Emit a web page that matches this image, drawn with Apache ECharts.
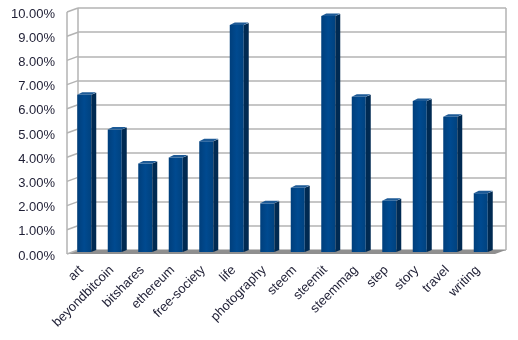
<!DOCTYPE html>
<html><head><meta charset="utf-8">
<script src="https://cdn.jsdelivr.net/npm/echarts@6/dist/echarts.min.js"></script>
<style>html,body{margin:0;padding:0;background:#fff}#c{width:518px;height:340px}</style>
</head><body><div id="c"></div>
<script>
const categories = ['art','beyondbitcoin','bitshares','ethereum','free-society','life','photography','steem','steemit','steemmag','step','story','travel','writing'];
const values = [6.5, 5.06, 3.66, 3.91, 4.58, 9.38, 2.01, 2.66, 9.75, 6.42, 2.12, 6.24, 5.59, 2.43];
const yTicks = [0,1,2,3,4,5,6,7,8,9,10];

const chart = echarts.init(document.getElementById('c'), null, {renderer:'canvas'});
const font = 'Liberation Sans, Arial, sans-serif';
const txt = '#1e1e34';
const gridColor = '#b3b3b3';

function wallItem(params, api) {
  const children = [];
  const dx = -11, dy = 4;
  const cs = params.coordSys;
  const left = cs.x, right = cs.x + cs.width;
  const b0 = api.coord([0, 0])[1];
  const b10 = api.coord([0, 10])[1];
  children.push({type:'polygon', shape:{points:[[left,b0],[right,b0],[right+dx,b0+dy],[left+dx,b0+dy]]},
    style:{fill:'#8f8f8f'}});
  yTicks.forEach(t => {
    const y = api.coord([0, t])[1];
    children.push({type:'line', shape:{x1:left+dx, y1:y+dy, x2:left, y2:y}, style:{stroke:gridColor, lineWidth:1.5}});
  });
  children.push({type:'line', shape:{x1:left+dx, y1:b10+dy, x2:left+dx, y2:b0+dy}, style:{stroke:gridColor, lineWidth:1.5}});
  children.push({type:'line', shape:{x1:left, y1:b10, x2:left, y2:b0}, style:{stroke:gridColor, lineWidth:1.5}});
  children.push({type:'line', shape:{x1:right, y1:b10, x2:right, y2:b0}, style:{stroke:gridColor, lineWidth:1.5}});
  return {type:'group', children};
}

function barItem(params, api) {
  const top = api.coord([api.value(0), api.value(1)]);
  const base = api.coord([api.value(0), 0]);
  const w = 14, d = 5, h = 2;
  const l = top[0] - w / 2;
  return {type:'group', children:[
    {type:'rect', shape:{x:l, y:top[1], width:w, height:base[1]-top[1]},
      style:{fill:new echarts.graphic.LinearGradient(0,0,1,0,[{offset:0,color:'#003f7c'},{offset:0.5,color:'#004a90'},{offset:1,color:'#00427f'}])}},
    {type:'polygon', shape:{points:[[l+w,top[1]],[l+w+d,top[1]-h],[l+w+d,base[1]-h],[l+w,base[1]]]}, style:{fill:'#002a52'}},
    {type:'polygon', shape:{points:[[l,top[1]],[l+d,top[1]-h-0.5],[l+w+d,top[1]-h-0.5],[l+w,top[1]]]}, style:{fill:'#1d5a96'}}
  ]};
}

chart.setOption({
  animation:false,
  grid:[
    {left:78, right:12, top:8, bottom:90},
    {left:69, right:22, top:10, bottom:88},
    {left:66, right:25, top:14, bottom:84}
  ],
  xAxis:[
    {type:'category', gridIndex:0, data:categories, axisLine:{show:false}, axisTick:{show:false}, axisLabel:{show:false}},
    {type:'category', gridIndex:1, data:categories, show:false},
    {type:'category', gridIndex:2, data:categories, axisLine:{show:false}, axisTick:{show:false},
      axisLabel:{rotate:45, interval:0, margin:12, fontSize:13, color:txt, fontFamily:font}}
  ],
  yAxis:[
    {type:'value', gridIndex:0, min:0, max:10, interval:1, axisLine:{show:false}, axisTick:{show:false},
      splitLine:{lineStyle:{color:gridColor, width:1.5}}, axisLabel:{show:false}},
    {type:'value', gridIndex:1, min:0, max:10, interval:1, show:false},
    {type:'value', gridIndex:2, min:0, max:10, interval:1, axisLine:{show:false}, axisTick:{show:false}, splitLine:{show:false},
      axisLabel:{margin:11, fontSize:13, color:txt, fontFamily:font, formatter: v => v.toFixed(2) + '%'}}
  ],
  series:[
    {type:'custom', xAxisIndex:0, yAxisIndex:0, renderItem:wallItem, data:[[0,0]], silent:true, z:1},
    {type:'custom', xAxisIndex:1, yAxisIndex:1, renderItem:barItem, z:5,
      data: values.map((v,i)=>[i,v])}
  ]
});
</script></body></html>
